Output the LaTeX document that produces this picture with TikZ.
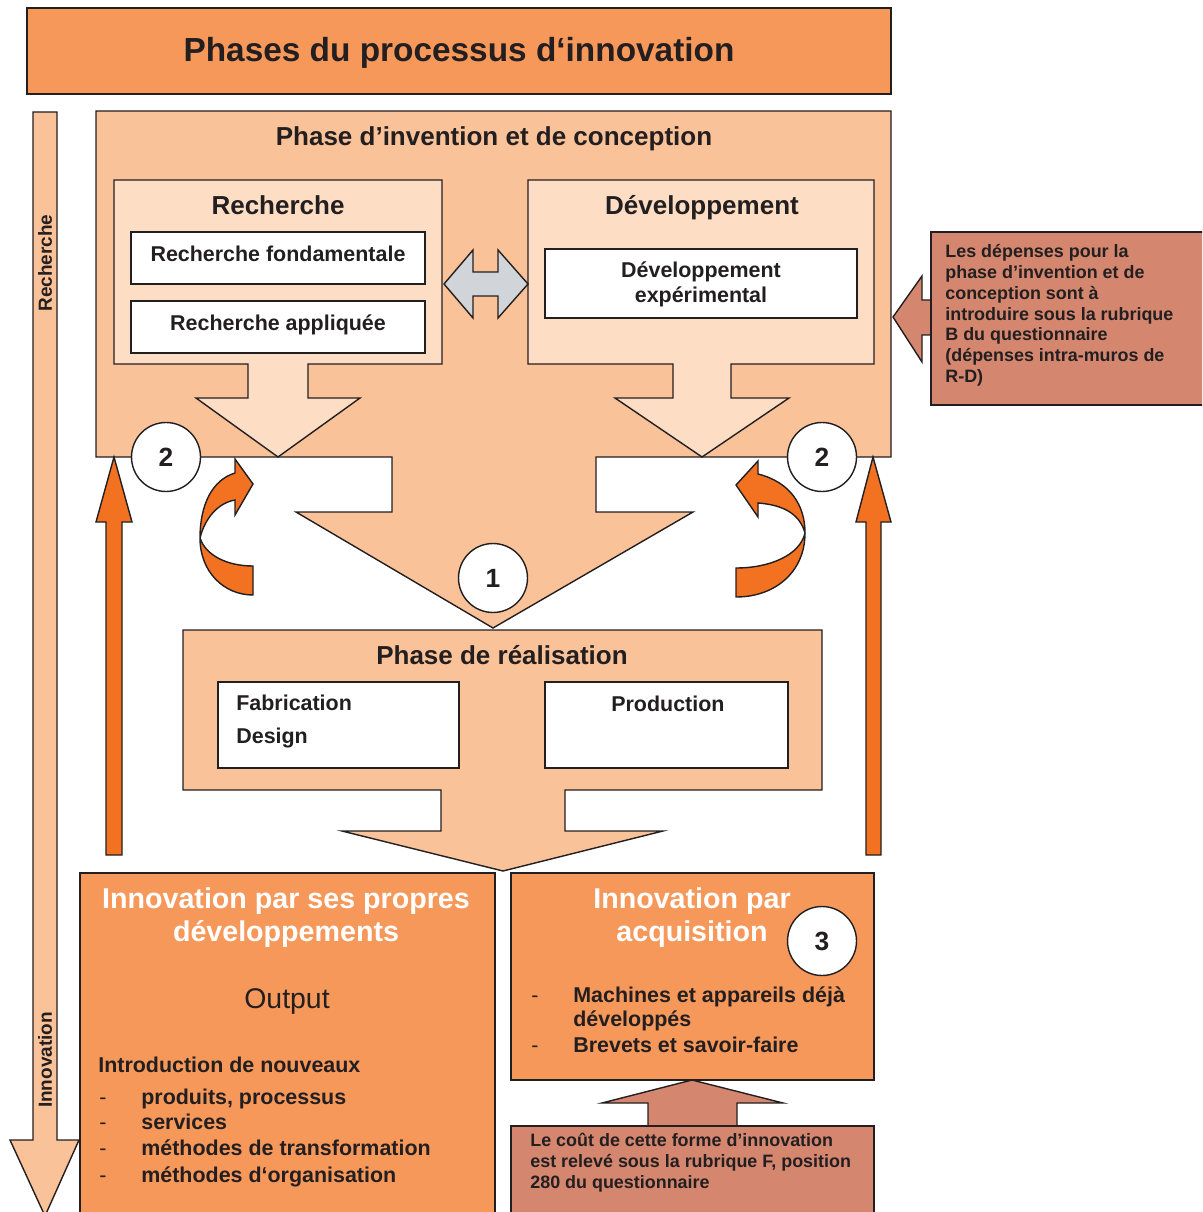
\documentclass[tikz,border=0pt]{standalone}
\usepackage{fontspec}
\setmainfont{Liberation Sans}
\definecolor{titre}{RGB}{247,152,91}
\definecolor{phase}{RGB}{250,194,152}
\definecolor{bloc}{RGB}{253,222,197}
\definecolor{note}{RGB}{212,134,111}
\definecolor{fleche}{RGB}{242,114,34}
\definecolor{gris}{RGB}{209,213,217}
\definecolor{encre}{RGB}{35,31,32}

\begin{document}
\begin{tikzpicture}[x=0.02cm, y=-0.02cm, line join=miter,
    contour/.style={draw=encre, line width=0.8pt},
    gros/.style={font=\bfseries\fontsize{19}{23}\selectfont, text=encre, inner sep=0pt, anchor=base},
    entete/.style={font=\bfseries\fontsize{14.8}{17}\selectfont, text=encre, inner sep=0pt, anchor=base},
    item/.style={font=\bfseries\fontsize{12.2}{14}\selectfont, text=encre, inner sep=0pt, anchor=base},
    blanc/.style={font=\bfseries\fontsize{16.3}{19}\selectfont, text=white, inner sep=0pt, anchor=base},
    petit/.style={font=\bfseries\fontsize{10.2}{12}\selectfont, text=encre, inner sep=0pt, anchor=base west},
    vertical/.style={rotate=90, font=\bfseries\fontsize{10.8}{13}\selectfont, text=encre, inner sep=0pt},
    tiret/.style={font=\fontsize{12.2}{14}\selectfont, text=encre, inner sep=0pt, anchor=base west},
    rond/.style={circle, contour, fill=white, minimum size=1.38cm, inner sep=0pt,
        font=\bfseries\fontsize{15}{18}\selectfont, text=encre}]
    \useasboundingbox (0,0) rectangle (1202,1212);
    \clip (0,0) rectangle (1202,1212);

    % Titre
    \fill[titre, contour] (27,8) rectangle (891,94);
    \node[gros] (titre) at (459,62) {Phases du processus d‘innovation};

    % Fleche verticale Recherche -> Innovation
    \fill[phase, contour] (33,112) -- (57,112) -- (57,1140) -- (79,1140) -- (45,1216)
        -- (10,1140) -- (33,1140) -- cycle;
    \node[vertical] (vrech) at (45,263) {Recherche};
    \node[vertical] (vinno) at (45,1060) {Innovation};

    % Phase d'invention et de conception
    \fill[phase, contour] (96,111) -- (891,111) -- (891,457) -- (596,457) -- (596,512)
        -- (693,512) -- (493,628) -- (296,512) -- (392,512) -- (392,457) -- (96,457) -- cycle;
    \node[entete] (invention) at (494,146) {Phase d’invention et de conception};

    \fill[bloc, contour] (114,180) -- (442,180) -- (442,364) -- (308,364) -- (308,398)
        -- (360,398) -- (278,457) -- (196,398) -- (248,398) -- (248,364) -- (114,364) -- cycle;
    \node[entete] (rech) at (278,215) {Recherche};
    \fill[white, contour] (131,232) rectangle (425,284);
    \node[item] (fond) at (278,262) {Recherche fondamentale};
    \fill[white, contour] (131,301) rectangle (425,353);
    \node[item] (appl) at (278,331) {Recherche appliquée};

    \fill[bloc, contour] (528,180) -- (874,180) -- (874,364) -- (731,364) -- (731,398)
        -- (789,398) -- (702,457) -- (615,398) -- (673,398) -- (673,364) -- (528,364) -- cycle;
    \node[entete] (dev) at (702,215) {Développement};
    \fill[white, contour] (545,249) rectangle (857,318);
    \node[item] (devexp) at (701,278) {Développement};
    \node[item] (devexpb) at (701,303) {expérimental};

    % Double fleche grise
    \fill[gris, contour] (444,284) -- (473,250) -- (473,272) -- (498,272) -- (498,250)
        -- (528,284) -- (498,318) -- (498,296) -- (473,296) -- (473,318) -- cycle;

    % Phase de realisation
    \fill[phase, contour] (183,630) -- (822,630) -- (822,790) -- (565,790) -- (565,831)
        -- (663,831) -- (503,871) -- (342,831) -- (441,831) -- (441,790) -- (183,790) -- cycle;
    \node[entete] (real) at (502,664) {Phase de réalisation};
    \fill[white, contour] (218,682) rectangle (459,768);
    \node[item, anchor=base west] (fab) at (236,710) {Fabrication};
    \node[item, anchor=base west] (design) at (236,743) {Design};
    \fill[white, contour] (545,682) rectangle (788,768);
    \node[item, anchor=base west] (prod) at (611,711) {Production};

    % Fleches orange montantes
    \fill[fleche, contour] (106,855) -- (106,522) -- (96,522) -- (114,457) -- (132,522)
        -- (122,522) -- (122,855) -- cycle;
    \fill[fleche, contour] (866,855) -- (866,522) -- (856,522) -- (873,457) -- (891,522)
        -- (881,522) -- (881,855) -- cycle;

    % Fleches courbes
    \fill[fleche, contour] (253,566) .. controls (228,566) and (206,556) .. (200,538)
        .. controls (205,518) and (218,503) .. (235,500) -- (235,515) -- (253,484)
        -- (235,459) -- (235,473) .. controls (212,480) and (200,505) .. (200,538)
        .. controls (200,572) and (224,595) .. (253,595) -- cycle;
    \fill[fleche, contour] (736,568) .. controls (770,568) and (800,555) .. (805,533)
        .. controls (800,515) and (785,505) .. (758,503) -- (758,517) -- (736,485)
        -- (758,461) -- (758,474) .. controls (790,482) and (805,505) .. (805,533)
        .. controls (805,572) and (775,597) .. (736,597) -- cycle;

    % Innovation par ses propres developpements
    \fill[titre, contour] (80,873) rectangle (495,1230);
    \node[blanc] (propres) at (286,908) {Innovation par ses propres};
    \node[blanc] (propresb) at (286,941) {développements};
    \node[font=\fontsize{16.2}{19}\selectfont, text=encre, inner sep=0pt, anchor=base]
        (output) at (287,1008) {Output};
    \node[item, anchor=base west] (intro) at (98,1072) {Introduction de nouveaux};
    \foreach \y/\t [count=\i] in {1104/{produits, processus}, 1129/services,
        1155/méthodes de transformation, 1182/méthodes d‘organisation} {
        \node[tiret] (tp\i) at (99,\y) {-};
        \node[item, anchor=base west] (lp\i) at (141,\y) {\t};
    }

    % Innovation par acquisition
    \fill[titre, contour] (511,873) rectangle (874,1080);
    \node[blanc] (acq) at (692,908) {Innovation par};
    \node[blanc] (acqb) at (692,941) {acquisition};
    \node[tiret] (ta1) at (531,1002) {-};
    \node[tiret] (ta2) at (531,1052) {-};
    \node[item, anchor=base west] (la1) at (573,1002) {Machines et appareils déjà};
    \node[item, anchor=base west] (la2) at (573,1026) {développés};
    \node[item, anchor=base west] (la3) at (573,1052) {Brevets et savoir-faire};

    % Note cout d'acquisition
    \fill[note, contour] (648,1130) -- (648,1103) -- (602,1103) -- (692,1080) -- (783,1103)
        -- (737,1103) -- (737,1130) -- cycle;
    \fill[note, contour] (511,1126) rectangle (874,1230);
    \foreach \t [count=\i] in {Le coût de cette forme d’innovation,
        {est relevé sous la rubrique F, position}, 280 du questionnaire}
        \node[petit] (cout\i) at (530,{1146+21*(\i-1)}) {\t};

    % Note depenses R-D
    \fill[note, contour] (935,300) -- (922,300) -- (922,276) -- (893,317) -- (922,362)
        -- (922,335) -- (935,335) -- cycle;
    \fill[note, contour] (931,232) rectangle (1215,405);
    \foreach \t [count=\i] in {Les dépenses pour la, phase d’invention et de,
        conception sont à, introduire sous la rubrique, B du questionnaire,
        {(dépenses intra-muros de}, {R-D)}}
        \node[petit] (dep\i) at (945,{258+20.7*(\i-1)}) {\t};

    % Numeros
    \node[rond] (un) at (493,578) {1};
    \node[rond] (deuxg) at (166,457) {2};
    \node[rond] (deuxd) at (822,457) {2};
    \node[rond] (trois) at (822,941) {3};
\end{tikzpicture}
\end{document}
